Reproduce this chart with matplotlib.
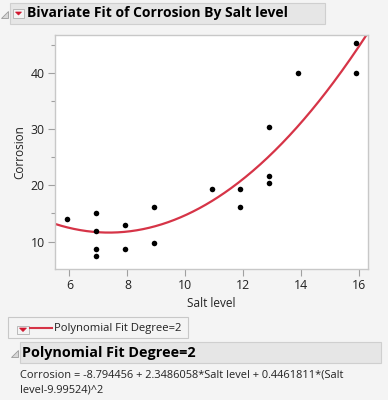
import numpy as np
import matplotlib
matplotlib.use("Agg")
import matplotlib.pyplot as plt
from matplotlib.patches import Rectangle, Polygon

plt.rcParams['font.family'] = ['Open Sans', 'DejaVu Sans']

# Data
salt_level = [5.9, 6.9, 6.9, 6.9, 6.9, 7.9, 7.9, 8.9, 8.9,
              10.9, 11.9, 11.9, 12.9, 12.9, 12.9, 13.9, 15.9, 15.9]
corrosion = [14.0, 15.1, 11.9, 8.6, 7.5, 12.9, 8.6, 16.2, 9.7,
             19.4, 19.4, 16.2, 21.6, 20.5, 30.4, 40.0, 40.0, 45.4]
# Polynomial fit coefficients (from the fit report)
b0, b1, b2, xmean = -8.794456, 2.3486058, 0.4461811, 9.99524

xticks = [6, 8, 10, 12, 14, 16]
yticks = [10, 20, 30, 40]
yminor = [15, 25, 35, 45]

W, H = 388, 400
fig = plt.figure(figsize=(W / 100, H / 100), dpi=100)
fig.patch.set_facecolor('#f4f4f4')

def fx(x):
    return x / W

def fy(y):
    return 1 - y / H

red = '#d63447'

# Axes
ax_l, ax_t, ax_r, ax_b = 55, 35, 368, 269
ax = fig.add_axes([fx(ax_l), fy(ax_b), fx(ax_r - ax_l), (ax_b - ax_t) / H])
ax.set_facecolor('white')
ax.set_xlim(5.5, 16.3)
ax.set_ylim(5.1, 46.8)

xs = np.linspace(5.5, 16.3, 300)
ys = b0 + b1 * xs + b2 * (xs - xmean) ** 2
ax.plot(xs, ys, color=red, lw=1.6, zorder=2)
ax.scatter(salt_level, corrosion, s=16, color='black', zorder=3, linewidths=0)

for s in ax.spines.values():
    s.set_color('#c8c8c8')
    s.set_linewidth(1.0)
ax.set_xticks(xticks)
ax.set_yticks(yticks)
ax.set_yticks(yminor, minor=True)
ax.tick_params(axis='both', which='major', length=5, width=0.8, color='#a0a0a0',
               labelsize=8.8, labelcolor='#222222', pad=2.5)
ax.tick_params(axis='y', which='minor', length=3, width=0.8, color='#a0a0a0')
ax.set_xlabel('Salt level', fontsize=8.5, color='#222222', labelpad=3)
ax.set_ylabel('Corrosion', fontsize=8.5, color='#222222', labelpad=3)

# Helper to draw a bar header
def header(x0, y0, x1, y1, text, button=False, tri=True, size=10):
    fig.patches.append(Rectangle((fx(x0), fy(y1)), fx(x1 - x0), (y1 - y0) / H,
                                 transform=fig.transFigure, facecolor='#e6e6e6',
                                 edgecolor='#cfcfcf', lw=0.8))
    yc = (y0 + y1) / 2
    if tri:
        fig.patches.append(Polygon([[fx(x0 - 9), fy(yc + 4)], [fx(x0 - 2), fy(yc + 4)],
                                    [fx(x0 - 2), fy(yc - 3)]], closed=True,
                                   transform=fig.transFigure, facecolor='#d8d8d8',
                                   edgecolor='#9a9a9a', lw=0.6))
    tx = x0 + 2
    if button:
        fig.patches.append(Rectangle((fx(x0 + 3), fy(yc + 4)), fx(11), 8 / H,
                                     transform=fig.transFigure, facecolor='#f4f4f4',
                                     edgecolor='#b0b0b0', lw=0.6))
        fig.patches.append(Polygon([[fx(x0 + 5.5), fy(yc - 1.5)], [fx(x0 + 11.5), fy(yc - 1.5)],
                                    [fx(x0 + 8.5), fy(yc + 1.5)]], closed=True,
                                   transform=fig.transFigure, facecolor='#d0142c',
                                   edgecolor='#d0142c', lw=0.5))
        tx = x0 + 17
    fig.text(fx(tx), fy(yc), text, fontsize=size, fontweight='bold', color='black',
             va='center', ha='left')

header(10, 3, 325, 24, 'Bivariate Fit of Corrosion By Salt level', button=True, size=10)

# Legend box
fig.patches.append(Rectangle((fx(8), fy(338)), fx(180), 21 / H, transform=fig.transFigure,
                             facecolor='#f4f4f4', edgecolor='#c8c8c8', lw=0.8))
fig.patches.append(Rectangle((fx(17), fy(333.5)), fx(12), 8 / H, transform=fig.transFigure,
                             facecolor='#f4f4f4', edgecolor='#b0b0b0', lw=0.6))
fig.patches.append(Polygon([[fx(19.5), fy(328)], [fx(26.5), fy(328)], [fx(23), fy(331.5)]],
                           closed=True, transform=fig.transFigure,
                           facecolor='#d0142c', edgecolor='#d0142c', lw=0.5))
fig.lines.append(plt.Line2D([fx(30), fx(52)], [fy(328), fy(328)], transform=fig.transFigure,
                            color=red, lw=1.5))
fig.text(fx(54), fy(328), 'Polynomial Fit Degree=2', fontsize=8.1, color='#222222',
         va='center', ha='left')

header(20, 342, 381, 363, 'Polynomial Fit Degree=2', size=10.4)

fig.text(fx(20), fy(375), 'Corrosion = -8.794456 + 2.3486058*Salt level + 0.4461811*(Salt',
         fontsize=7.9, color='#222222', va='center', ha='left')
fig.text(fx(20), fy(390), 'level-9.99524)^2', fontsize=7.9, color='#222222',
         va='center', ha='left')

fig.savefig('out.png', dpi=100, facecolor=fig.get_facecolor())
